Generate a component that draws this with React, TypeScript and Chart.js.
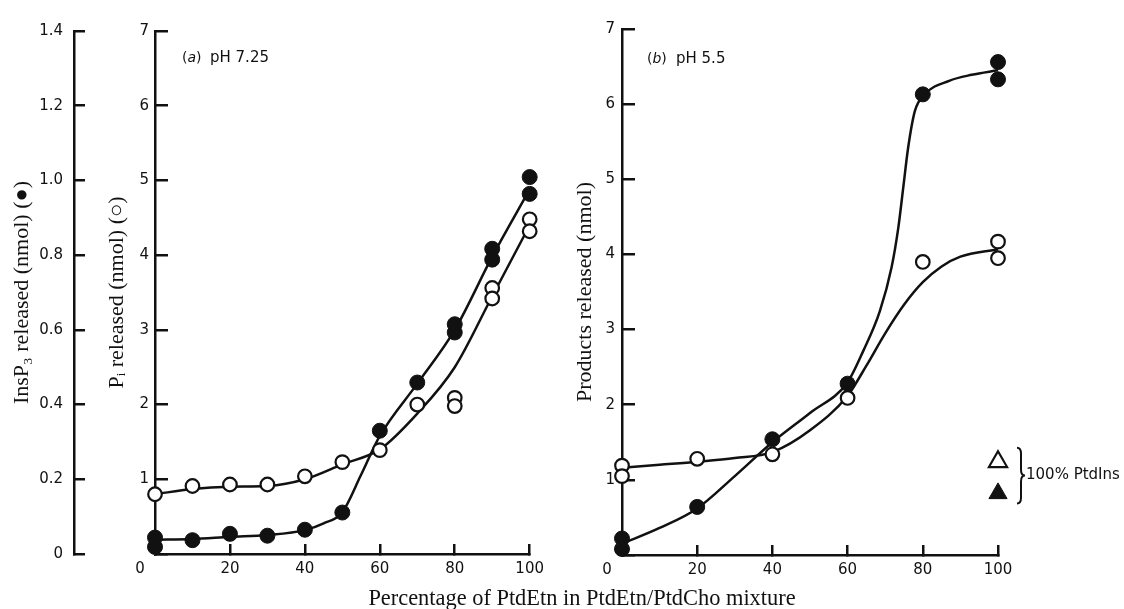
import React, { useEffect, useRef } from 'react';
import { Chart, registerables } from 'chart.js';

Chart.register(...registerables);

// ---------------- data ----------------
const xTickValues = [0, 20, 40, 60, 80, 100];
const piTickValues = [0, 1, 2, 3, 4, 5, 6, 7];
const insTickValues = [0, 0.2, 0.4, 0.6, 0.8, 1.0, 1.2, 1.4];

// Panel (a) pH 7.25 — Pi released (open circles), nmol
const aPiX = [0, 10, 20, 30, 40, 50, 60, 70, 80, 80, 90, 90, 100, 100];
const aPiY = [0.8, 0.91, 0.93, 0.93, 1.04, 1.23, 1.39, 2.0, 2.09, 1.98, 3.56, 3.42, 4.48, 4.32];
// Panel (a) — InsP3 released (filled circles), nmol
const aInsX = [0, 0, 10, 20, 30, 40, 50, 60, 70, 80, 80, 90, 90, 100, 100];
const aInsY = [0.044, 0.019, 0.037, 0.054, 0.049, 0.065, 0.111, 0.33, 0.459, 0.615, 0.593, 0.817, 0.788, 1.009, 0.964];
// Panel (a) hand-drawn curves
const aPiFitX = [0, 10, 20, 30, 40, 50, 60, 70, 80, 90, 100];
const aPiFitY = [0.8, 0.87, 0.9, 0.91, 1.0, 1.2, 1.4, 1.88, 2.5, 3.45, 4.4];
const aInsFitX = [0, 10, 20, 30, 40, 45, 50, 55, 60, 70, 80, 90, 100];
const aInsFitY = [0.038, 0.04, 0.046, 0.051, 0.064, 0.082, 0.112, 0.212, 0.316, 0.456, 0.6, 0.796, 0.976];

// Panel (b) pH 5.5 — products released, nmol
const bOpenX = [0, 0, 20, 40, 60, 80, 100, 100];
const bOpenY = [1.19, 1.05, 1.28, 1.34, 2.09, 3.9, 4.17, 3.95];
const bFilledX = [0, 0, 20, 40, 60, 80, 100, 100];
const bFilledY = [0.22, 0.08, 0.64, 1.54, 2.28, 6.13, 6.56, 6.33];
const bTriOpenX = [100];
const bTriOpenY = [1.24];
const bTriFilledX = [100];
const bTriFilledY = [0.82];
// Panel (b) hand-drawn curves
const bOpenFitX = [0, 10, 20, 30, 40, 50, 60, 65, 70, 75, 80, 85, 90, 100];
const bOpenFitY = [1.16, 1.2, 1.24, 1.29, 1.37, 1.66, 2.12, 2.52, 2.95, 3.33, 3.63, 3.84, 3.97, 4.07];
const bFilledFitX = [0, 10, 20, 30, 40, 50, 60, 64.2, 68.6, 71.7, 73.5, 74.8, 76.1, 77.9, 80.5, 87, 93, 100];
const bFilledFitY = [0.15, 0.36, 0.62, 1.05, 1.5, 1.89, 2.3, 2.72, 3.25, 3.83, 4.36, 4.89, 5.42, 5.91, 6.13, 6.31, 6.39, 6.45];

const xAxisTitle = 'Percentage of PtdEtn in PtdEtn/PtdCho mixture';
const insTitle = 'InsP\u2083 released (nmol) (\u25CF)';
const piTitle = 'P\u1D62 released (nmol) (\u25CB)';
const bTitle = 'Products released (nmol)';
const annotText = '100% PtdIns';

// ---------------- styles ----------------
const INK = '#111';
const SANS = "'DejaVu Sans', sans-serif";
const SERIF = "'Liberation Serif', 'Times New Roman', serif";
const tickFont = { family: SANS, size: 15 };
const titleFont = { family: SERIF, size: 22 };
const border = { display: true, color: INK, width: 2.5 };
const tickGrid = (len: number) => ({
  display: true,
  drawOnChartArea: false,
  drawTicks: true,
  tickLength: -len,
  tickWidth: 2.5,
  tickColor: INK,
  color: INK,
  lineWidth: 2.5,
});

const pts = (xs: number[], ys: number[]) => xs.map((x, i) => ({ x, y: ys[i] }));
const setTicks = (vals: number[]) => (s: any) => {
  s.ticks = vals.map((v) => ({ value: v }));
};

const curve = (xs: number[], ys: number[], axis: string) => ({
  data: pts(xs, ys),
  yAxisID: axis,
  showLine: true,
  pointRadius: 0,
  borderColor: INK,
  borderWidth: 2.5,
  cubicInterpolationMode: 'monotone',
  fill: false,
  order: 3,
  clip: false,
});
const marks = (xs: number[], ys: number[], axis: string, filled: boolean, style = 'circle', r = 7) => ({
  data: pts(xs, ys),
  yAxisID: axis,
  showLine: false,
  pointStyle: style,
  pointRadius: r,
  pointBackgroundColor: filled ? INK : '#fff',
  pointBorderColor: INK,
  pointBorderWidth: filled ? 1 : 2.2,
  order: 1,
  clip: false,
});

const xScale = (h: number) => ({
  type: 'linear',
  position: 'bottom',
  min: 0,
  max: 100,
  afterBuildTicks: setTicks(xTickValues),
  afterFit: (s: any) => {
    s.height = h;
  },
  border,
  grid: tickGrid(10),
  ticks: {
    font: tickFont,
    color: INK,
    padding: 16,
    maxRotation: 0,
    autoSkip: false,
    callback: (v: any) => (v === 0 ? '0\u2003\u2003' : String(v)),
  },
});

const panelLabel = (letter: string, text: string, dx: number, dy: number, gap: number) => ({
  id: 'panelLabel' + letter,
  afterDraw(chart: any) {
    const { ctx, chartArea } = chart;
    const x = chartArea.left + dx;
    const y = chartArea.top + dy;
    ctx.save();
    ctx.fillStyle = INK;
    ctx.textBaseline = 'middle';
    ctx.textAlign = 'left';
    let cx = x;
    ctx.font = `14px ${SANS}`;
    ctx.fillText('(', cx, y);
    cx += ctx.measureText('(').width;
    ctx.font = `italic 14px ${SANS}`;
    ctx.fillText(letter, cx, y);
    cx += ctx.measureText(letter).width;
    ctx.font = `14px ${SANS}`;
    ctx.fillText(')', cx, y);
    ctx.font = `15px ${SANS}`;
    ctx.fillText(text, x + gap, y);
    ctx.restore();
  },
});

const braceNote = {
  id: 'braceNote',
  afterDraw(chart: any) {
    const { ctx } = chart;
    const xs = chart.scales.x;
    const ys = chart.scales.y;
    const px = xs.getPixelForValue(bTriOpenX[0]);
    const t = ys.getPixelForValue(bTriOpenY[0]) - 14;
    const b = ys.getPixelForValue(bTriFilledY[0]) + 10;
    const m = (t + b) / 2;
    const x0 = px + 19;
    const xm = x0 + 4;
    const xt = x0 + 8;
    ctx.save();
    ctx.strokeStyle = INK;
    ctx.lineWidth = 2;
    ctx.beginPath();
    ctx.moveTo(x0, t);
    ctx.quadraticCurveTo(xm, t, xm, t + 6);
    ctx.lineTo(xm, m - 6);
    ctx.quadraticCurveTo(xm, m, xt, m);
    ctx.quadraticCurveTo(xm, m, xm, m + 6);
    ctx.lineTo(xm, b - 6);
    ctx.quadraticCurveTo(xm, b, x0, b);
    ctx.stroke();
    ctx.fillStyle = INK;
    ctx.font = `15px ${SANS}`;
    ctx.textBaseline = 'middle';
    ctx.textAlign = 'left';
    ctx.fillText(annotText, xt + 1, m);
    ctx.restore();
  },
};

const baseOptions = (padding: any, scales: any) => ({
  responsive: false,
  animation: false,
  events: [],
  layout: { padding },
  plugins: { legend: { display: false }, tooltip: { enabled: false } },
  scales,
});

const cfgA = (): any => ({
  type: 'line',
  data: {
    datasets: [
      curve(aInsFitX, aInsFitY, 'yIns'),
      curve(aPiFitX, aPiFitY, 'y'),
      marks(aInsX, aInsY, 'yIns', true, 'circle', 7.5),
      marks(aPiX, aPiY, 'y', false, 'circle', 6.8),
    ],
  },
  options: baseOptions(
    { left: 0, right: 25, top: 21, bottom: 0 },
    {
      x: xScale(55),
      y: {
        type: 'linear',
        position: 'left',
        weight: 1,
        min: 0,
        max: 7,
        afterBuildTicks: setTicks(piTickValues),
        afterFit: (s: any) => {
          s.width = 81;
        },
        border,
        grid: tickGrid(13),
        ticks: { font: tickFont, color: INK, padding: 19, autoSkip: false, callback: (v: any) => (v === 0 ? '' : String(v)) },
        title: { display: true, text: piTitle, font: titleFont, color: INK, padding: { top: 30, bottom: 0 } },
      },
      yIns: {
        type: 'linear',
        position: 'left',
        weight: 2,
        min: 0,
        max: 1.4,
        afterBuildTicks: setTicks(insTickValues),
        afterFit: (s: any) => {
          s.width = 74;
        },
        border,
        grid: tickGrid(11),
        ticks: {
          font: tickFont,
          color: INK,
          padding: 22,
          autoSkip: false,
          callback: (v: any) => (v === 0 ? '0' : Number(v).toFixed(1)),
        },
        title: { display: true, text: insTitle, font: titleFont, color: INK, padding: { top: 9, bottom: 0 } },
      },
    }
  ),
  plugins: [panelLabel('a', 'pH 7.25', 27, 27, 28)],
});

const cfgB = (): any => ({
  type: 'line',
  data: {
    datasets: [
      curve(bFilledFitX, bFilledFitY, 'y'),
      curve(bOpenFitX, bOpenFitY, 'y'),
      marks(bFilledX, bFilledY, 'y', true, 'circle', 7.5),
      marks(bOpenX, bOpenY, 'y', false, 'circle', 6.8),
      marks(bTriOpenX, bTriOpenY, 'y', false, 'triangle', 10.5),
      marks(bTriFilledX, bTriFilledY, 'y', true, 'triangle', 10.5),
    ],
  },
  options: baseOptions(
    { left: 0, right: 126, top: 28, bottom: 0 },
    {
      x: xScale(54),
      y: {
        type: 'linear',
        position: 'left',
        min: 0,
        max: 7,
        afterBuildTicks: setTicks(piTickValues),
        afterFit: (s: any) => {
          s.width = 62;
        },
        border,
        grid: tickGrid(13),
        ticks: { font: tickFont, color: INK, padding: 20, autoSkip: false, callback: (v: any) => (v === 0 ? '' : String(v)) },
        title: { display: true, text: bTitle, font: titleFont, color: INK, padding: { top: 12, bottom: 0 } },
      },
    }
  ),
  plugins: [panelLabel('b', 'pH 5.5', 25, 30, 29), braceNote],
});

export default function App() {
  const refA = useRef<HTMLCanvasElement>(null);
  const refB = useRef<HTMLCanvasElement>(null);

  useEffect(() => {
    const a = new Chart(refA.current as HTMLCanvasElement, cfgA());
    const b = new Chart(refB.current as HTMLCanvasElement, cfgB());
    return () => {
      a.destroy();
      b.destroy();
    };
  }, []);

  return (
    <div
      style={{
        position: 'absolute',
        left: 0,
        top: 0,
        width: 1124,
        height: 609,
        background: '#fff',
        overflow: 'hidden',
      }}
    >
      <canvas ref={refA} width={560} height={609} style={{ position: 'absolute', left: 0, top: 0, width: 560, height: 609 }} />
      <canvas ref={refB} width={564} height={609} style={{ position: 'absolute', left: 560, top: 0, width: 564, height: 609 }} />
      <div
        style={{
          position: 'absolute',
          left: 282,
          top: 585,
          width: 600,
          textAlign: 'center',
          fontFamily: SERIF,
          fontSize: 22.4,
          lineHeight: '26px',
          color: INK,
          whiteSpace: 'nowrap',
        }}
      >
        {xAxisTitle}
      </div>
    </div>
  );
}
